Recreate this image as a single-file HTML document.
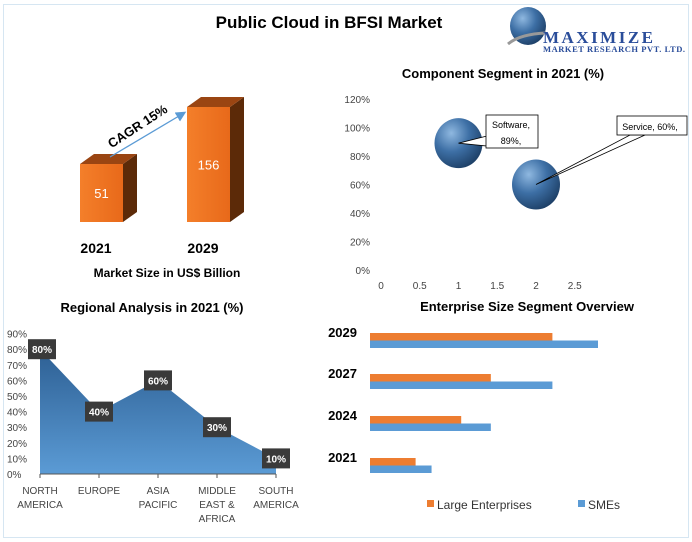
<!DOCTYPE html>
<html><head><meta charset="utf-8"><style>
body{margin:0;background:#fff;width:692px;height:542px;overflow:hidden;font-family:"Liberation Sans",sans-serif}
svg{display:block}
</style></head><body>
<svg width="692" height="542" viewBox="0 0 692 542" font-family="Liberation Sans, sans-serif">
<defs>
<radialGradient id="bub" cx="0.35" cy="0.3" r="0.75"><stop offset="0" stop-color="#8fb8e0"/><stop offset="0.5" stop-color="#3d6fa5"/><stop offset="1" stop-color="#1d3f66"/></radialGradient>
<linearGradient id="area" x1="0" y1="0" x2="0" y2="1"><stop offset="0" stop-color="#2d5f93"/><stop offset="1" stop-color="#5b9bd5"/></linearGradient>
<linearGradient id="front" x1="0" y1="0" x2="1" y2="0"><stop offset="0" stop-color="#f47f2a"/><stop offset="1" stop-color="#e8691a"/></linearGradient>
<marker id="arr" markerWidth="8" markerHeight="8" refX="6" refY="4" orient="auto"><path d="M0,0 L8,4 L0,8z" fill="#5b9bd5"/></marker>
</defs>
<rect x="3.5" y="4.5" width="685" height="533" fill="none" stroke="#d6e6f2"/>
<text x="329" y="28" text-anchor="middle" font-size="17" font-weight="bold">Public Cloud in BFSI Market</text>
<g>
<ellipse cx="528" cy="26" rx="18" ry="19" fill="url(#bub)"/>
<path d="M508,44 Q520,34 546,33" stroke="#999" stroke-width="3" fill="none"/>
<text x="543" y="43" font-family="Liberation Serif, serif" font-size="17" font-weight="bold" fill="#2a4d9a" textLength="110">MAXIMIZE</text>
<text x="543" y="52" font-family="Liberation Serif, serif" font-size="8.5" font-weight="bold" fill="#2a4d9a" textLength="142">MARKET RESEARCH PVT. LTD.</text>
</g>
<g id="cols"></g>
<text x="167" y="277" text-anchor="middle" font-size="12" font-weight="bold">Market Size in US$ Billion</text>
<line x1="110" y1="157" x2="184" y2="113" stroke="#5b9bd5" stroke-width="1.3" marker-end="url(#arr)"/>
<text x="140" y="130" text-anchor="middle" font-size="13" font-weight="bold" transform="rotate(-33 140 130)">CAGR 15%</text>
<text x="503" y="78" text-anchor="middle" font-size="13" font-weight="bold">Component Segment in 2021 (%)</text>
<g id="bubble"></g>
<text x="152" y="312" text-anchor="middle" font-size="13" font-weight="bold">Regional Analysis in 2021 (%)</text>
<g id="areachart"></g>
<text x="527" y="311" text-anchor="middle" font-size="13" font-weight="bold">Enterprise Size Segment Overview</text>
<g id="hbar"></g>
<rect x="427" y="500" width="7" height="7" fill="#ed7d31"/>
<text x="437" y="509" font-size="12" fill="#333">Large Enterprises</text>
<rect x="578" y="500" width="7" height="7" fill="#5b9bd5"/>
<text x="588" y="509" font-size="12" fill="#333">SMEs</text>
</svg>
<script>
const colYears=["2021","2029"];
const colValues=[51,156];
const bubLabels=["Software","Service"];
const bubX=[1,2];
const bubY=[89,60];
const bubYTicks=[0,20,40,60,80,100,120];
const bubXTicks=[0,0.5,1,1.5,2,2.5];
const regions=[["NORTH","AMERICA"],["EUROPE"],["ASIA","PACIFIC"],["MIDDLE","EAST &","AFRICA"],["SOUTH","AMERICA"]];
const regionValues=[80,40,60,30,10];
const regionTicks=[0,10,20,30,40,50,60,70,80,90];
const entYears=["2029","2027","2024","2021"];
const largeValues=[80,53,40,20];
const smeValues=[100,80,53,27];

const NS="http://www.w3.org/2000/svg";
function mk(p,t,a,txt){const e=document.createElementNS(NS,t);for(const k in a)e.setAttribute(k,a[k]);if(txt!=null)e.textContent=txt;p.appendChild(e);return e;}

// 3D columns
const cols=document.getElementById('cols');
const base=222,colX=i=>80+i*107;
const colH=v=>30.3+v*0.543;
colValues.forEach((v,i)=>{
  const x=colX(i),h=colH(v),top=base-h,w=43,dx=14,dy=10;
  const g=mk(cols,'g',{});
  
  
  mk(g,'polygon',{points:`${x+w},${top} ${x+w+dx},${top-dy} ${x+w+dx},${base-dy} ${x+w},${base}`,fill:'#5c2a08'});
  mk(g,'polygon',{points:`${x},${top} ${x+dx},${top-dy} ${x+w+dx},${top-dy} ${x+w},${top}`,fill:'#9a4512'});
  mk(g,'rect',{x:x,y:top,width:w,height:h,fill:'url(#front)'});
  mk(g,'text',{x:x+w/2,y:top+h/2+5,'text-anchor':'middle','font-size':13,fill:'#fff'},String(v));
  const t=mk(cols,'text',{x:x+16,y:253,'text-anchor':'middle','font-size':14,'font-weight':'bold'},colYears[i]);
  
  
});

// bubble chart
const bub=document.getElementById('bubble');
const bx=v=>381+v*77.5, by=v=>270-v*171/120;
bubYTicks.forEach(t=>{const e=mk(bub,'text',{x:370,y:by(t)+4,'text-anchor':'end','font-size':10,fill:'#444'},t+'%');});
bubXTicks.forEach(t=>{const e=mk(bub,'text',{x:bx(t),y:289,'text-anchor':'middle','font-size':10,fill:'#444'},String(t));});
bubX.forEach((xv,i)=>{
  const cx=bx(xv),cy=by(bubY[i]);
  const c=mk(bub,'ellipse',{cx:cx,cy:cy,rx:24,ry:25,fill:'url(#bub)'});
  
  
});
{const cx=bx(bubX[0]),cy=by(bubY[0]);
mk(bub,'polygon',{points:`${cx},${cy} 487,136 487,146`,fill:'#fff',stroke:'#000','stroke-width':0.8});
const g=mk(bub,'g',{});
mk(g,'rect',{x:486,y:115,width:52,height:33,fill:'#fff',stroke:'#000','stroke-width':0.8});
mk(g,'text',{x:511,y:128,'text-anchor':'middle','font-size':9},bubLabels[0]+',');
mk(g,'text',{x:511,y:144,'text-anchor':'middle','font-size':9},bubY[0]+'%,');}
{const cx=bx(bubX[1]),cy=by(bubY[1]);
mk(bub,'polygon',{points:`${cx},${cy} 630,135 645,135`,fill:'#fff',stroke:'#000','stroke-width':0.8});
const g=mk(bub,'g',{});
mk(g,'rect',{x:617,y:116,width:70,height:19,fill:'#fff',stroke:'#000','stroke-width':0.8});
mk(g,'text',{x:650,y:130,'text-anchor':'middle','font-size':9},bubLabels[1]+', '+bubY[1]+'%,');}

// area chart
const ar=document.getElementById('areachart');
const ax=i=>40+i*59, ay=v=>474-v*1.56;
regionTicks.forEach(t=>{const e=mk(ar,'text',{x:7,y:ay(t)+4,'font-size':10,fill:'#444'},t+'%');});
let d=`M${ax(0)},${ay(0)}`;regionValues.forEach((v,i)=>d+=` L${ax(i)},${ay(v)}`);d+=` L${ax(regionValues.length-1)},${ay(0)} Z`;
const ap=mk(ar,'path',{d:d,fill:'url(#area)'});
mk(ar,'line',{x1:ax(0),y1:474,x2:ax(4),y2:474,stroke:'#555','stroke-width':1});
regions.forEach((r,i)=>{
  mk(ar,'line',{x1:ax(i),y1:474,x2:ax(i),y2:478,stroke:'#555'});
  r.forEach((l,j)=>{const e=mk(ar,'text',{x:ax(i),y:494+j*14,'text-anchor':'middle','font-size':10,fill:'#444'},l);});
  const v=regionValues[i],g=mk(ar,'g',{});
  
  
  const lx=ax(i)+(i==0?2:0);
  mk(g,'rect',{x:lx-14,y:ay(v)-10,width:28,height:20,fill:'#3a3a3a'});
  mk(g,'text',{x:lx,y:ay(v)+4,'text-anchor':'middle','font-size':10,'font-weight':'bold',fill:'#fff'},v+'%');
});

// horizontal bars
const hb=document.getElementById('hbar');
const hx=v=>v*2.28, rowY=[333,374,416,458];
entYears.forEach((y,i)=>{
  const t=mk(hb,'text',{x:357,y:rowY[i]+4,'text-anchor':'end','font-size':13,'font-weight':'bold'},y);
  
  const a=mk(hb,'rect',{x:370,y:rowY[i],width:hx(largeValues[i]),height:7.5,fill:'#ed7d31'});
  
  const b=mk(hb,'rect',{x:370,y:rowY[i]+7.5,width:hx(smeValues[i]),height:7.5,fill:'#5b9bd5'});
  
});
</script>
</body></html>
